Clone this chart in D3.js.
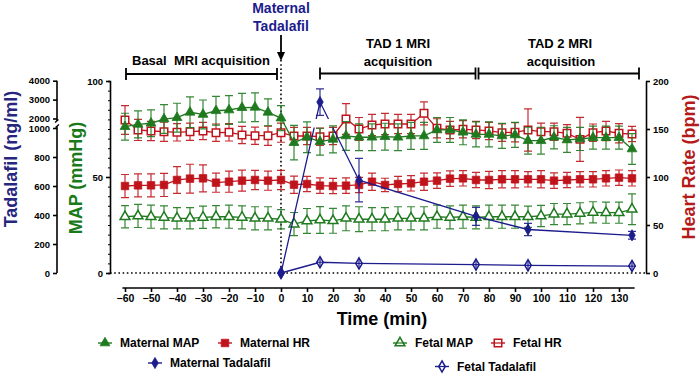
<!DOCTYPE html>
<html><head><meta charset="utf-8">
<script src="https://cdn.jsdelivr.net/npm/d3@7"></script>
<style>
body{margin:0;background:#fff}
svg{display:block}
text{font-family:Arial,"Liberation Sans",sans-serif;font-weight:bold}
</style>
</head><body>
<svg id="c" width="700" height="374"></svg>
<script>
// ---- data ----
const times = [-60,-55,-50,-45,-40,-35,-30,-25,-20,-15,-10,-5,0,5,10,15,20,25,30,35,40,45,50,55,60,65,70,75,80,85,90,95,100,105,110,115,120,125,130,135];
const maternalMAP = [76.2,77.4,78,80.2,80.9,83.7,82.6,84.5,84.9,86.1,86.3,83.7,80.7, 67.9,70.7,68.4,69.6,71.4,70.7,70.7,71,70.7,71.4,71.4,74.5,74.5,73.3,72.2, 72.2,71.4,71.9,68.9,68.9,70.7,69.3,69.8,70.5,70.5,70.5,64.6];
const maternalMAPsd = [7,7,7,7.5,7.5,8,7.5,7.5,7.5,7.5,7.5,7,6.5, 9,8,7,7,7.5,7,7,7,7,7,7,6.5,6.5,6.5,6.5, 6.5,6.5,6.5,7,7,6,6.5,6,6,6,6,8];
const fetalMAP = [29.3,29.7,29.3,29,28.5,28.5,29,29.3,29.3,29,28.5,28.5,28, 25.5,27.1,27.6,27.2,28.5,28,28,28,28.5,28.5,28.5,29.3,29,29.3,29, 29.3,29.3,29.3,29.3,29.7,30.7,30.7,31.1,31.6,31.4,31.4,33.2];
const fetalMAPsd = [5.8,6,6,6,5.5,5.5,5.8,5.8,6,6,6,6,5, 6,6.5,7,6.5,6.5,6.5,6,6,6,6,6,6,6,6,6, 6,6,6,5.5,5.5,5.5,5.5,5.5,5.5,5.5,5.5,8];
const maternalHR = [90.6,91.3,91.3,91.7,96.9,98.3,98.6,94.1,95.1,96.2,96.9,96.2,96.9, 92,92.7,91,90.6,91,91.7,95.1,91.7,92.7,93.4,95.1,96.2,98.3,98.6,96.9, 96.9,97.6,97.6,97.6,97.6,96.2,96.9,97.6,97.6,98.6,99.3,98.6];
const maternalHRsd = [12,12,12,12,14,15,14,10,11,11,10,10,10, 9,8,8,8,8,8,9,7,8,8,9,8,8,8,8, 9,9,9,8,9,8,8,8,8,8,8,8];
const fetalHR = [159.4,149,147.9,147.2,146.5,147.2,147.9,146.2,146.5,143.8,143,143,146.2, 142.7,142.7,142,142.7,160.4,150,154.2,155.2,155.2,155.2,166.3,150.7,149,149.7,149, 148,146.2,146.5,149,147.2,147.2,145.5,139.2,146.2,147.9,145.5,144.8];
const fetalHRsd = [15,11,10,10,9,9,9,9,9,9,9,10,10, 9,9,9,9,16,12,11,11,10,10,12,10,9,9,9, 9,9,10,22,9,9,9,23,9,10,10,8];
const tadTimes = [0,15,30,75,95,135];
const maternalTad = [0,2870,640,390,300,260];
const maternalTadSd = [0,700,150,62,42,27];
const fetalTad = [0,74,66,58,53,48];
const fetalTadSd = [0,36,36,36,36,36];
const xTicks = [-60,-50,-40,-30,-20,-10,0,10,20,30,40,50,60,70,80,90,100,110,120,130];
const tadTicksLow = [0,200,400,600,800,1000];
const tadTicksHigh = [2000,3000,4000];
const mapTicks = [0,50,100];
const mapMinor = [0,5,10,15,20,25,30,35,40,45,50,55,60,65,70,75,80,85,90,95,100];
const hrTicks = [0,50,100,150,200];

// ---- styles ----
const green = "#1f7a1f", red = "#c0141c", navy = "#1c1c8c";

const svg = d3.select("#c");
const x = d3.scaleLinear().domain([-60,130]).range([125,619]);
const yMap = d3.scaleLinear().domain([0,100]).range([273,81]);
const yHr = d3.scaleLinear().domain([0,200]).range([273,81]);
const yTadLo = d3.scaleLinear().domain([0,1000]).range([273,128]);
const yTadHi = d3.scaleLinear().domain([2000,4000]).range([118.5,80.7]);
const yTad = v => v <= 1000 ? yTadLo(v) : yTadHi(v);

// ---- axes ----
function styleAxis(g, fs){
  g.selectAll("path,line").attr("stroke","#000").attr("stroke-width",1.6);
  g.selectAll("text").style("font-size",fs+"px").style("font-weight","bold").attr("fill","#000");
}
const gx = svg.append("g").attr("transform","translate(0,288)")
  .call(d3.axisBottom(x).tickValues(xTicks).tickSize(4).tickSizeOuter(0).tickPadding(3));
gx.select(".domain").remove();
gx.append("line").attr("x1",x(-61)).attr("x2",x(136)).attr("y1",0).attr("y2",0);
styleAxis(gx,10.5);

const gtl = svg.append("g").attr("transform","translate(57,0)")
  .call(d3.axisLeft(yTadLo).tickValues(tadTicksLow).tickSize(4).tickSizeOuter(0).tickPadding(3).tickFormat(d3.format("d")));
gtl.select(".domain").remove();
gtl.append("line").attr("x1",0).attr("x2",0).attr("y1",yTadLo(0)).attr("y2",126.5);
styleAxis(gtl,9.5);
const gth = svg.append("g").attr("transform","translate(57,0)")
  .call(d3.axisLeft(yTadHi).tickValues(tadTicksHigh).tickSize(4).tickSizeOuter(0).tickPadding(3).tickFormat(d3.format("d")));
gth.select(".domain").remove();
gth.append("line").attr("x1",0).attr("x2",0).attr("y1",yTadHi(4000)).attr("y2",121);
styleAxis(gth,9.5);
svg.append("path").attr("d","M55.5,127.5 L59,124.5 M55,122.5 L58.5,119.5")
  .attr("stroke","#000").attr("stroke-width",1.4).attr("fill","none");

const gm = svg.append("g").attr("transform","translate(110,0)")
  .call(d3.axisLeft(yMap).tickValues(mapMinor).tickSize(2).tickFormat(""));
styleAxis(gm,9.5);
gm.selectAll(".tick line").attr("stroke-width",1);
const gm2 = svg.append("g").attr("transform","translate(110,0)")
  .call(d3.axisLeft(yMap).tickValues(mapTicks).tickSize(4).tickSizeOuter(0).tickPadding(3));
gm2.select(".domain").remove();
styleAxis(gm2,9.5);

const gh = svg.append("g").attr("transform","translate(646,0)")
  .call(d3.axisRight(yHr).tickValues(hrTicks).tickSize(4).tickSizeOuter(0).tickPadding(3));
styleAxis(gh,9.5);

// ---- axis titles ----
svg.append("text").attr("transform","translate(17,159) rotate(-90)").attr("text-anchor","middle")
  .style("font-size","18px").attr("fill","#26267f").text("Tadalafil (ng/ml)");
svg.append("text").attr("transform","translate(82,178) rotate(-90)").attr("text-anchor","middle")
  .style("font-size","18px").attr("fill","#1a7a1a").text("MAP (mmHg)");
svg.append("text").attr("transform","translate(695,167) rotate(-90)").attr("text-anchor","middle")
  .style("font-size","18px").attr("fill","#b51a1a").text("Heart Rate (bpm)");
svg.append("text").attr("x",382).attr("y",325).attr("text-anchor","middle")
  .style("font-size","18px").attr("fill","#000").text("Time (min)");

// ---- dotted reference lines ----
svg.append("line").attr("x1",110).attr("x2",646).attr("y1",yMap(0)).attr("y2",yMap(0))
  .attr("stroke","#000").attr("stroke-width",1.6).attr("stroke-dasharray","1.6,2.6");
svg.append("line").attr("x1",x(0)).attr("x2",x(0)).attr("y1",60).attr("y2",yMap(0))
  .attr("stroke","#000").attr("stroke-width",1.6).attr("stroke-dasharray","1.6,2.6");

// ---- annotations ----
svg.append("text").attr("x",x(0)).attr("y",13).attr("text-anchor","middle").style("font-size","14px").attr("fill",navy).text("Maternal");
svg.append("text").attr("x",x(0)).attr("y",31).attr("text-anchor","middle").style("font-size","14px").attr("fill",navy).text("Tadalafil");
svg.append("line").attr("x1",x(0)).attr("x2",x(0)).attr("y1",35).attr("y2",54).attr("stroke","#000").attr("stroke-width",1.8);
svg.append("path").attr("d",`M${x(0)-4},52 L${x(0)+4},52 L${x(0)},61 Z`).attr("fill","#000");

function bracket(x1,x2,y){
  svg.append("path").attr("d",`M${x1},${y-6} V${y+6} M${x1},${y} H${x2} M${x2},${y-6} V${y+6}`)
    .attr("stroke","#000").attr("stroke-width",1.8).attr("fill","none");
}
bracket(126,277,74);
bracket(320,475.5,73.5);
bracket(478.5,639,73.5);
svg.append("text").attr("x",201).attr("y",65).attr("text-anchor","middle").style("font-size","13px").attr("fill","#000").attr("xml:space","preserve").text("Basal  MRI acquisition");
svg.append("text").attr("x",398).attr("y",48).attr("text-anchor","middle").style("font-size","13px").attr("fill","#000").text("TAD 1 MRI");
svg.append("text").attr("x",398).attr("y",66).attr("text-anchor","middle").style("font-size","13px").attr("fill","#000").text("acquisition");
svg.append("text").attr("x",560).attr("y",48).attr("text-anchor","middle").style("font-size","13px").attr("fill","#000").text("TAD 2 MRI");
svg.append("text").attr("x",561).attr("y",66).attr("text-anchor","middle").style("font-size","13px").attr("fill","#000").text("acquisition");

// ---- series ----
const symTri = d3.symbol().type(d3.symbolTriangle).size(42);
const symSq = d3.symbol().type(d3.symbolSquare).size(56);
const symDia = d3.symbol().type(d3.symbolDiamond).size(36);

function series(xs, vals, sds, yS, color, sym, filled, opts={}){
  const g = svg.append("g");
  const pts = xs.map((t,i)=>({x:x(t), y:yS(vals[i]), y1:yS(vals[i]+sds[i]), y2:yS(Math.max(0,vals[i]-sds[i]))}));
  const cw = opts.cw !== undefined ? opts.cw : 4;
  const ln = g.append("path").attr("d", d3.line().x(p=>p.x).y(p=>p.y)(pts))
    .attr("stroke",color).attr("stroke-width",1.3).attr("fill","none");
  if(opts.clip) ln.attr("clip-path",opts.clip);
  const eb = g.append("path").attr("d", pts.filter(p=>Math.abs(p.y1-p.y2)>0.5).map(p=>`M${p.x-cw},${p.y1}h${2*cw}M${p.x},${p.y1}V${p.y2}M${p.x-cw},${p.y2}h${2*cw}`).join(""))
    .attr("stroke",color).attr("stroke-width",1.2).attr("fill","none").attr("opacity",0.9);
  if(!opts.barsOnTop) eb.lower();
  g.selectAll("path.m").data(pts).join("path").attr("class","m")
    .attr("transform",p=>`translate(${p.x},${p.y})`).attr("d",sym)
    .attr("fill",filled?color:"#fff").attr("stroke",color).attr("stroke-width",filled?0.8:1.5);
  if(opts.barsOnTop){
    g.append("path").attr("d", pts.filter(p=>Math.abs(p.y1-p.y2)>0.5).map(p=>`M${p.x},${p.y1}V${p.y2}M${p.x-4},${p.y}h8`).join(""))
      .attr("stroke",color).attr("stroke-width",1.2).attr("fill","none");
  }
  return g;
}

const defs = svg.append("defs");
const cp = defs.append("clipPath").attr("id","brk");
cp.append("rect").attr("x",0).attr("y",0).attr("width",700).attr("height",119);
cp.append("rect").attr("x",0).attr("y",127.5).attr("width",700).attr("height",250);

series(times, fetalMAP, fetalMAPsd, yMap, green, symTri, false);
series(times, maternalHR, maternalHRsd, yHr, red, symSq, true);
series(times, fetalHR, fetalHRsd, yHr, red, symSq, false);
series(times, maternalMAP, maternalMAPsd, yMap, green, symTri, true);
series(tadTimes, fetalTad, fetalTadSd, yTad, navy, symDia, false, {cw:0, barsOnTop:true});
series(tadTimes, maternalTad, maternalTadSd, yTad, navy, symDia, true, {clip:"url(#brk)"});

// ---- legend ----
const legend = [
  {label:"Maternal MAP", x:105, y:343, color:green, sym:symTri, filled:true},
  {label:"Maternal HR", x:225, y:343, color:red, sym:symSq, filled:true},
  {label:"Fetal MAP", x:400, y:343, color:green, sym:symTri, filled:false},
  {label:"Fetal HR", x:498, y:343, color:red, sym:symSq, filled:false},
  {label:"Maternal Tadalafil", x:155, y:363, color:navy, sym:symDia, filled:true},
  {label:"Fetal Tadalafil", x:442, y:366.5, color:navy, sym:symDia, filled:false}
];
const lg = svg.append("g").selectAll("g").data(legend).join("g").attr("transform",d=>`translate(${d.x},${d.y})`);
lg.append("line").attr("x1",-7).attr("x2",7).attr("stroke",d=>d.color).attr("stroke-width",1.4);
lg.append("path").attr("d",d=>d.sym()).attr("fill",d=>d.filled?d.color:"#fff").attr("stroke",d=>d.color).attr("stroke-width",d=>d.filled?0.8:1.5);
lg.filter(d=>!d.filled).append("line").attr("x1",-4).attr("x2",4).attr("stroke",d=>d.color).attr("stroke-width",1.2);
lg.append("text").attr("x",15).attr("dy","0.36em").style("font-size","12px").attr("fill","#000").text(d=>d.label);
</script>
</body></html>
